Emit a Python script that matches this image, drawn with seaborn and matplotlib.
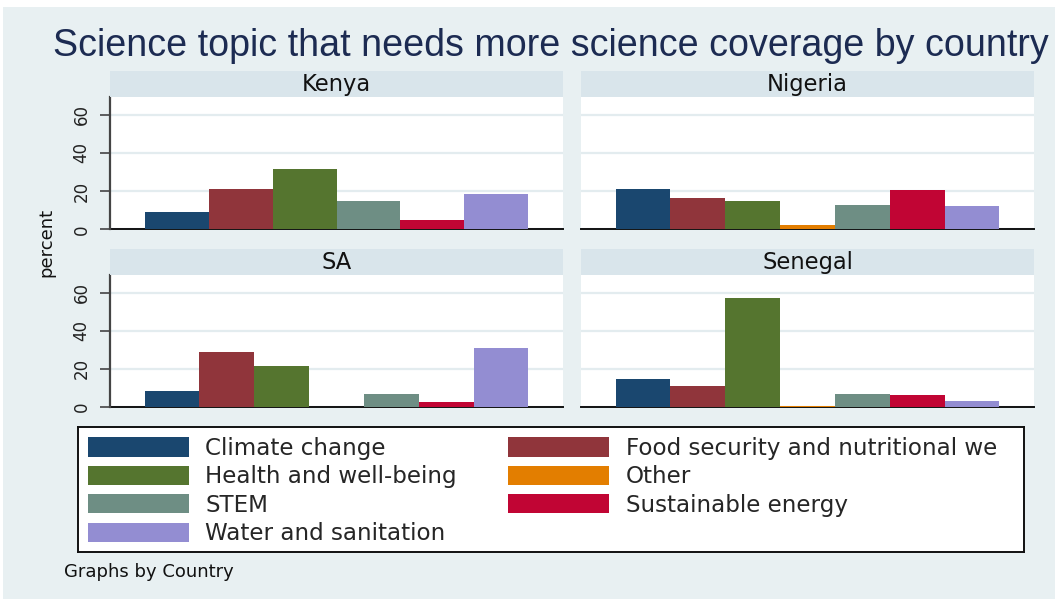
import numpy as np
import pandas as pd
import matplotlib
matplotlib.use("Agg")
import matplotlib.pyplot as plt
from matplotlib import font_manager
from matplotlib.patches import Rectangle, Patch
import seaborn as sns

# ---- data -------------------------------------------------------------
topics = ["Climate change", "Food security and nutritional we", "Health and well-being",
          "Other", "STEM", "Sustainable energy", "Water and sanitation"]
countries = ["Kenya", "Nigeria", "SA", "Senegal"]
kenya = [9.0, 21.0, 31.6, np.nan, 14.7, 4.8, 18.4]
nigeria = [21.0, 16.3, 14.7, 2.4, 12.6, 20.5, 12.1]
south_africa = [8.4, 28.9, 21.5, 0.0, 6.8, 2.6, 30.8]
senegal = [14.7, 11.0, 57.2, 0.7, 6.8, 6.5, 3.0]
y_ticks = [0, 20, 40, 60]
title = "Science topic that needs more science coverage by country"
note = "Graphs by Country"
y_label = "percent"

colors = ["#1a476f", "#90353b", "#55752f", "#e37e00", "#6e8e84", "#c10534", "#938dd2"]
palette = dict(zip(topics, colors))

values = {"Kenya": kenya, "Nigeria": nigeria, "SA": south_africa, "Senegal": senegal}
df = pd.DataFrame([
    {"Country": c, "topic": t, "percent": v}
    for c in countries for t, v in zip(topics, values[c])
])

# ---- style -------------------------------------------------------------
sns.set_style("white")
plt.rcParams["font.family"] = ["DejaVu Sans"]

BG = "#e8f0f2"
STRIP = "#d9e5eb"
GRID = "#e3ecef"
TITLE_C = "#1c2b52"

W, H = 1055, 599
fig = plt.figure(figsize=(W / 100, H / 100), dpi=100, facecolor="white")
fig.patches.append(Rectangle((3 / W, 0), 1, 1 - 7 / H, transform=fig.transFigure,
                             facecolor=BG, edgecolor="none", zorder=-10))


def box(x0, y0, x1, y1):
    """pixel box (top-left origin) -> figure axes rect"""
    return [x0 / W, 1 - y1 / H, (x1 - x0) / W, (y1 - y0) / H]


cols = [(110, 563), (581, 1034)]
rows = [(71, 96.7, 229.3), (249, 274.7, 407)]
layout = {"Kenya": (0, 0), "Nigeria": (0, 1), "SA": (1, 0), "Senegal": (1, 1)}

for country in countries:
    r, c = layout[country]
    x0, x1 = cols[c]
    s0, p0, p1 = rows[r]

    ax = fig.add_axes(box(x0, p0, x1, p1))
    ax.set_facecolor("white")
    sub = df[df["Country"] == country].dropna()
    order = list(sub["topic"])
    sns.barplot(data=sub, x="topic", y="percent", hue="topic", order=order,
                hue_order=order, palette=palette, width=1.0, saturation=1,
                linewidth=0, errorbar=None, legend=False, ax=ax, zorder=3)
    n = len(order)
    g = 0.0899 * n
    ax.set_xlim(-0.5 - g, n - 0.5 + g)
    ax.set_ylim(0, 69.4)
    ax.set_xlabel("")
    ax.set_ylabel("")
    ax.set_xticks([])
    ax.set_yticks(y_ticks)
    ax.grid(axis="y", color=GRID, lw=1.6)
    ax.set_axisbelow(True)
    for side in ("top", "right"):
        ax.spines[side].set_visible(False)
    ax.spines["bottom"].set_color("#111111")
    ax.spines["bottom"].set_linewidth(1.4)
    ax.spines["bottom"].set_zorder(2)
    if c == 0:
        ax.spines["left"].set_color("#444444")
        ax.spines["left"].set_linewidth(1.6)
        ax.tick_params(axis="y", length=7, width=1.2, color="#444444", pad=7,
                       labelsize=12, labelrotation=90, labelcolor="#222222", left=True)
        for lab in ax.get_yticklabels():
            lab.set_va("center")
    else:
        ax.spines["left"].set_visible(False)
        ax.tick_params(axis="y", length=0, labelleft=False)

    sax = fig.add_axes(box(x0, s0, x1, p0))
    sax.set_facecolor(STRIP)
    sax.set_xticks([])
    sax.set_yticks([])
    for sp in sax.spines.values():
        sp.set_visible(False)
    sax.text(0.5, 0.48, country, ha="center", va="center", fontsize=16.3,
             color="#111111", transform=sax.transAxes)

# y axis title shared by the panels
fig.text(46 / W, 1 - 242 / H, y_label, rotation=90, ha="center", va="center",
         fontsize=13, color="#111111")

# ---- legend ------------------------------------------------------------
lax = fig.add_axes(box(77.7, 427, 1024, 552))
lax.set_facecolor("white")
lax.set_xticks([])
lax.set_yticks([])
for sp in lax.spines.values():
    sp.set_color("#111111")
    sp.set_linewidth(1.4)
leg_order = [0, 2, 4, 6, 1, 3, 5]
handles = [Patch(facecolor=colors[i], edgecolor="none") for i in leg_order]
labels = [topics[i] for i in leg_order]
lax.legend(handles, labels, ncol=2, loc="upper left", bbox_to_anchor=(0, 1),
           frameon=False, fontsize=16.6, handlelength=4.38, handleheight=0.9,
           handletextpad=0.72, columnspacing=2.23, labelspacing=0.235,
           borderpad=0.43, borderaxespad=0)

fig.text(64 / W, 1 - 572 / H, note, ha="left", va="center", fontsize=13,
         color="#111111")

# ---- title -------------------------------------------------------------
names = {f.name for f in font_manager.fontManager.ttflist}
tfam = "Liberation Sans Narrow" if "Liberation Sans Narrow" in names else "Liberation Sans"
t = fig.text(53 / W, 1 - 56 / H, title, ha="left", va="baseline", fontsize=22,
             color=TITLE_C, family=tfam)
fig.canvas.draw()
wpx = t.get_window_extent().width
t.set_fontsize(22 * 992 / wpx)

fig.savefig("out.png", dpi=100, facecolor="white")
